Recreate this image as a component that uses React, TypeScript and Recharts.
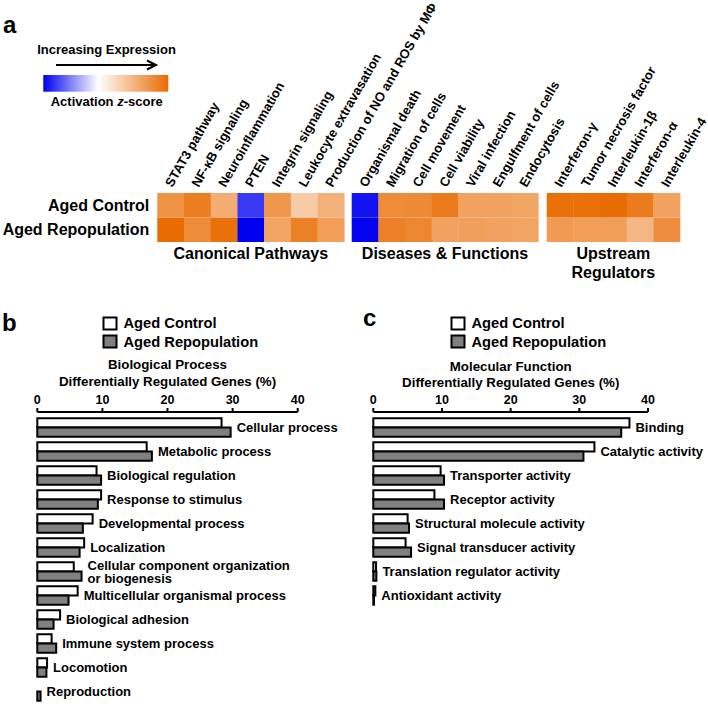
import React from 'react';
import { BarChart, Bar, XAxis, YAxis, Cell, LabelList } from 'recharts';

const FONT = '"Liberation Sans", Arial, Helvetica, sans-serif';

// ---- panel a: activation z-scores ----
const pathwayNames = [
  'STAT3 pathway',
  'NF-κB signaling',
  'Neuroinflammation',
  'PTEN',
  'Integrin signaling',
  'Leukocyte extravasation',
  'Production of NO and ROS by MΦ',
];
const pathwayControl = [2.9, 3.5, 2.2, -3.1, 2.8, 1.4, 2.1];
const pathwayRepop = [3.95, 3.1, 3.85, -4.0, 2.45, 3.4, 2.6];

const diseaseNames = [
  'Organismal death',
  'Migration of cells',
  'Cell movement',
  'Cell viability',
  'Viral infection',
  'Engulfment of cells',
  'Endocytosis',
];
const diseaseControl = [-3.7, 3.1, 3.15, 3.55, 2.5, 2.5, 2.4];
const diseaseRepop = [-3.95, 3.4, 3.25, 2.5, 2.55, 2.5, 2.45];

const regulatorNames = [
  'Interferon-γ',
  'Tumor necrosis factor',
  'Interleukin-1β',
  'Interferon-α',
  'Interleukin-4',
];
const regulatorControl = [3.85, 3.85, 3.95, 3.55, 2.5];
const regulatorRepop = [2.7, 2.6, 2.6, 1.95, 3.05];

const legendZ = [-4, -2, 0, 2, 4];

// ---- panel b: biological process (%) ----
const bioNames = [
  'Cellular process',
  'Metabolic process',
  'Biological regulation',
  'Response to stimulus',
  'Developmental process',
  'Localization',
  'Cellular component organization\nor biogenesis',
  'Multicellular organismal process',
  'Biological adhesion',
  'Immune system process',
  'Locomotion',
  'Reproduction',
];
const bioControl = [28.3, 16.8, 9.1, 9.8, 8.5, 7.2, 5.6, 6.2, 3.5, 2.2, 1.5, 0];
const bioRepop = [29.7, 17.6, 9.8, 9.3, 7.0, 6.5, 6.8, 4.8, 2.5, 2.9, 1.4, 0.5];

// ---- panel c: molecular function (%) ----
const molNames = [
  'Binding',
  'Catalytic activity',
  'Transporter activity',
  'Receptor activity',
  'Structural molecule activity',
  'Signal transducer activity',
  'Translation regulator activity',
  'Antioxidant activity',
];
const molControl = [37.3, 32.2, 9.8, 8.9, 5.0, 4.7, 0.4, 0.3];
const molRepop = [36.1, 30.6, 10.3, 10.3, 5.2, 5.5, 0.45, 0.1];

const pctTicks = [0, 10, 20, 30, 40];

const ORANGE = [233, 106, 0];
const BLUE = [0, 0, 240];
const Z_MAX = 4;

function zColor(z: number) {
  const t = Math.min(Math.abs(z) / Z_MAX, 1);
  const c = z >= 0 ? ORANGE : BLUE;
  const mix = c.map((v) => Math.round(255 + (v - 255) * t));
  return `rgb(${mix.join(',')})`;
}

function ColumnTick(props: any) {
  const { x, y, payload } = props;
  const ax = x + 1.5;
  const ay = y - 5;
  return (
    <text
      x={ax}
      y={ay}
      transform={`rotate(-60 ${ax} ${ay})`}
      textAnchor="start"
      fontFamily={FONT}
      fontSize={13}
      fontWeight="bold"
      fill="#000"
    >
      {payload.value}
    </text>
  );
}

function RowTick(props: any) {
  const { x, y, payload } = props;
  return (
    <text
      x={x}
      y={y + 5.5}
      textAnchor="end"
      fontFamily={FONT}
      fontSize={16}
      fontWeight="bold"
      fill="#000"
    >
      {payload.value > 1 ? 'Aged Control' : 'Aged Repopulation'}
    </text>
  );
}

interface HeatProps {
  names: string[];
  control: number[];
  repop: number[];
  left: number;
  right: number;
  rows?: boolean;
}

function HeatGroup({ names, control, repop, left, right, rows }: HeatProps) {
  const data = names.map((name, i) => ({ name, control: control[i], repop: repop[i] }));
  return (
    <div style={{ position: 'absolute', left: 0, top: 0 }}>
      <BarChart
        width={708}
        height={242}
        data={data}
        margin={{ top: 0, right, bottom: 0, left }}
        barCategoryGap={0}
        barGap={0}
      >
        <XAxis
          dataKey="name"
          orientation="top"
          height={193}
          axisLine={false}
          tickLine={false}
          tickSize={0}
          tickMargin={0}
          interval={0}
          tick={<ColumnTick />}
        />
        <YAxis
          type="number"
          domain={[0, 2]}
          ticks={[0.5, 1.5]}
          width={rows ? 157.3 : 0}
          hide={!rows}
          axisLine={false}
          tickLine={false}
          tickSize={0}
          tickMargin={8}
          tick={<RowTick />}
        />
        <Bar dataKey={() => 1} stackId="h" isAnimationActive={false}>
          {data.map((d, i) => (
            <Cell key={i} fill={zColor(d.repop)} />
          ))}
        </Bar>
        <Bar dataKey={() => 1} stackId="h" isAnimationActive={false}>
          {data.map((d, i) => (
            <Cell key={i} fill={zColor(d.control)} />
          ))}
        </Bar>
      </BarChart>
    </div>
  );
}

function makeLabel(data: any[], which: 'control' | 'repop') {
  return (props: any) => {
    const { index, value } = props;
    const vb = props.viewBox || props;
    const d = data[index];
    if (!d) return null;
    const use = which === 'control' ? d.control >= d.repop : d.repop > d.control;
    if (!use) return null;
    const x = vb.x + vb.width + 6;
    const yc = which === 'control' ? vb.y + vb.height : vb.y;
    const lines = String(value).split('\n');
    const lh = 13;
    return (
      <text fontFamily={FONT} fontSize={13} fontWeight="bold" fill="#000">
        {lines.map((l, k) => (
          <tspan key={k} x={x} y={yc + 4.7 + (k - (lines.length - 1) / 2) * lh}>
            {l}
          </tspan>
        ))}
      </text>
    );
  };
}

interface GoProps {
  names: string[];
  control: number[];
  repop: number[];
  left: number;
  width: number;
  height: number;
  margin: { top: number; right: number; bottom: number; left: number };
}

function GoChart({ names, control, repop, left, width, height, margin }: GoProps) {
  const data = names.map((name, i) => ({ name, control: control[i], repop: repop[i] }));
  return (
    <div style={{ position: 'absolute', left, top: 380 }}>
      <BarChart
        layout="vertical"
        width={width}
        height={height}
        data={data}
        margin={margin}
        barGap={0}
        barSize={9.2}
      >
        <XAxis
          type="number"
          orientation="top"
          domain={[0, 40]}
          ticks={pctTicks}
          interval={0}
          height={30}
          axisLine={{ stroke: '#000', strokeWidth: 2 }}
          tickLine={{ stroke: '#000', strokeWidth: 2 }}
          tickSize={4}
          tickMargin={4}
          tick={{ fill: '#000', fontSize: 12.5, fontWeight: 'bold', fontFamily: FONT }}
        />
        <YAxis
          type="category"
          dataKey="name"
          width={0}
          tick={false}
          tickLine={false}
          axisLine={{ stroke: '#000', strokeWidth: 2 }}
          padding={{ top: 3.3, bottom: 0.7 }}
        />
        <Bar dataKey="control" fill="#ffffff" stroke="#000" strokeWidth={2} isAnimationActive={false}>
          <LabelList dataKey="name" content={makeLabel(data, 'control')} />
        </Bar>
        <Bar dataKey="repop" fill="#808080" stroke="#000" strokeWidth={2} isAnimationActive={false}>
          <LabelList dataKey="name" content={makeLabel(data, 'repop')} />
        </Bar>
      </BarChart>
    </div>
  );
}

function LegendBoxes({ x }: { x: number }) {
  return (
    <g fontFamily={FONT} fontWeight="bold" fontSize={14.7} fill="#000">
      <rect x={x} y={317.5} width={13} height={12} fill="#fff" stroke="#000" strokeWidth={2} />
      <rect x={x} y={335.5} width={13} height={12} fill="#808080" stroke="#000" strokeWidth={2} />
      <text x={x + 20} y={328.3}>Aged Control</text>
      <text x={x + 20} y={347}>Aged Repopulation</text>
    </g>
  );
}

export default function App() {
  const legendOffsets = [0, 0.22, 0.44, 0.72, 1];
  return (
    <div
      style={{
        position: 'absolute',
        left: 0,
        top: 0,
        width: 708,
        height: 708,
        background: '#fff',
        overflow: 'hidden',
        fontFamily: FONT,
      }}
    >
      <style>{'.recharts-surface{overflow:visible}'}</style>

      <HeatGroup names={pathwayNames} control={pathwayControl} repop={pathwayRepop} left={0} right={363.7} rows />
      <HeatGroup names={diseaseNames} control={diseaseControl} repop={diseaseRepop} left={351.7} right={169.7} />
      <HeatGroup names={regulatorNames} control={regulatorControl} repop={regulatorRepop} left={546.7} right={28} />

      <GoChart
        names={bioNames}
        control={bioControl}
        repop={bioRepop}
        left={0}
        width={360}
        height={325}
        margin={{ top: 2, right: 62.3, bottom: 1, left: 37.3 }}
      />
      <GoChart
        names={molNames}
        control={molControl}
        repop={molRepop}
        left={360}
        width={348}
        height={229}
        margin={{ top: 2, right: 60, bottom: 1, left: 13.3 }}
      />

      <svg
        width={708}
        height={708}
        style={{ position: 'absolute', left: 0, top: 0, pointerEvents: 'none' }}
      >
        <defs>
          <linearGradient id="zgrad" x1="0" y1="0" x2="1" y2="0">
            {legendZ.map((z, i) => (
              <stop key={i} offset={legendOffsets[i]} stopColor={zColor(z)} />
            ))}
          </linearGradient>
        </defs>
        <g fontFamily={FONT} fontWeight="bold" fill="#000">
          <text x={3} y={33} fontSize={24}>a</text>
          <text x={2} y={331} fontSize={24}>b</text>
          <text x={363} y={326} fontSize={24}>c</text>

          <text x={106.5} y={54} fontSize={13} textAnchor="middle">Increasing Expression</text>
          <line x1={56} y1={65} x2={155} y2={65} stroke="#000" strokeWidth={2} />
          <polyline points="147,60.5 156,65 147,69.5" fill="none" stroke="#000" strokeWidth={2} />
          <rect x={43.3} y={75} width={125} height={16.7} fill="url(#zgrad)" />
          <text x={106.7} y={106.4} fontSize={13} textAnchor="middle">
            Activation <tspan fontStyle="italic">z</tspan>-score
          </text>

          <text x={250.8} y={259} fontSize={16} textAnchor="middle">Canonical Pathways</text>
          <text x={445} y={259} fontSize={16} textAnchor="middle">Diseases &amp; Functions</text>
          <text x={613.3} y={259} fontSize={16} textAnchor="middle">Upstream</text>
          <text x={613.3} y={277.5} fontSize={16} textAnchor="middle">Regulators</text>

          <text x={167.5} y={368.8} fontSize={13.3} textAnchor="middle">Biological Process</text>
          <text x={167.5} y={385.5} fontSize={13.3} textAnchor="middle">Differentially Regulated Genes (%)</text>
          <text x={510.7} y={371} fontSize={13.3} textAnchor="middle">Molecular Function</text>
          <text x={510.7} y={387} fontSize={13.3} textAnchor="middle">Differentially Regulated Genes (%)</text>
        </g>
        <LegendBoxes x={103.5} />
        <LegendBoxes x={451.5} />
      </svg>
    </div>
  );
}
